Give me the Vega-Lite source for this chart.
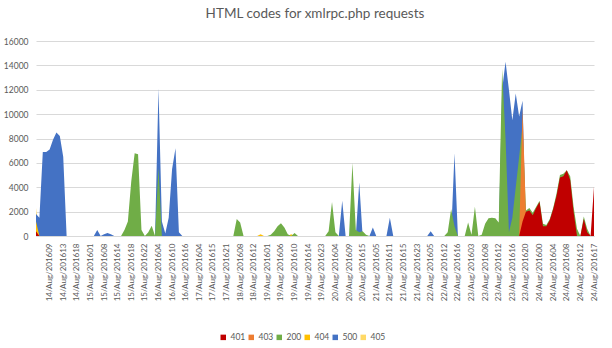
{
"$schema":"https://vega.github.io/schema/vega-lite/v6.json",
"width":558,"height":195,
"autosize":"none",
"padding":{"left":36,"top":41,"right":18,"bottom":112},
"background":"white",
"title":{"text":"HTML codes for xmlrpc.php requests","fontSize":13.5,"font":"Lato","fontWeight":"normal","color":"#595959","offset":17,"anchor":"middle"},
"data":{"values":[
{"t":"14/Aug/201605","s401":400,"s403":0,"s200":0,"s404":1200,"s500":1800,"s405":2300},
{"t":"14/Aug/201606","s401":0,"s403":0,"s200":0,"s404":0,"s500":1500,"s405":0},
{"t":"14/Aug/201607","s401":0,"s403":0,"s200":0,"s404":0,"s500":6900,"s405":0},
{"t":"14/Aug/201608","s401":0,"s403":0,"s200":0,"s404":0,"s500":6900,"s405":0},
{"t":"14/Aug/201609","s401":0,"s403":0,"s200":0,"s404":0,"s500":7100,"s405":0},
{"t":"14/Aug/201610","s401":0,"s403":0,"s200":0,"s404":0,"s500":7900,"s405":0},
{"t":"14/Aug/201611","s401":0,"s403":0,"s200":0,"s404":0,"s500":8500,"s405":0},
{"t":"14/Aug/201612","s401":0,"s403":0,"s200":0,"s404":0,"s500":8200,"s405":0},
{"t":"14/Aug/201613","s401":0,"s403":0,"s200":0,"s404":0,"s500":6500,"s405":0},
{"t":"14/Aug/201614","s401":0,"s403":0,"s200":0,"s404":0,"s500":0,"s405":0},
{"t":"14/Aug/201615","s401":0,"s403":0,"s200":0,"s404":0,"s500":0,"s405":0},
{"t":"14/Aug/201616","s401":0,"s403":0,"s200":0,"s404":0,"s500":0,"s405":0},
{"t":"14/Aug/201618","s401":0,"s403":0,"s200":0,"s404":0,"s500":0,"s405":0},
{"t":"14/Aug/201619","s401":0,"s403":0,"s200":0,"s404":0,"s500":0,"s405":0},
{"t":"14/Aug/201621","s401":0,"s403":0,"s200":0,"s404":0,"s500":0,"s405":0},
{"t":"14/Aug/201623","s401":0,"s403":0,"s200":0,"s404":0,"s500":0,"s405":0},
{"t":"15/Aug/201601","s401":0,"s403":0,"s200":0,"s404":0,"s500":0,"s405":0},
{"t":"15/Aug/201603","s401":0,"s403":0,"s200":0,"s404":0,"s500":0,"s405":0},
{"t":"15/Aug/201605","s401":0,"s403":0,"s200":0,"s404":0,"s500":500,"s405":0},
{"t":"15/Aug/201606","s401":0,"s403":0,"s200":0,"s404":0,"s500":0,"s405":0},
{"t":"15/Aug/201608","s401":0,"s403":0,"s200":0,"s404":0,"s500":150,"s405":0},
{"t":"15/Aug/201610","s401":0,"s403":0,"s200":0,"s404":0,"s500":250,"s405":0},
{"t":"15/Aug/201611","s401":0,"s403":0,"s200":0,"s404":0,"s500":150,"s405":0},
{"t":"15/Aug/201612","s401":0,"s403":0,"s200":0,"s404":0,"s500":0,"s405":0},
{"t":"15/Aug/201614","s401":0,"s403":0,"s200":0,"s404":0,"s500":0,"s405":0},
{"t":"15/Aug/201615","s401":0,"s403":0,"s200":0,"s404":0,"s500":0,"s405":0},
{"t":"15/Aug/201616","s401":0,"s403":0,"s200":500,"s404":0,"s500":0,"s405":0},
{"t":"15/Aug/201617","s401":0,"s403":0,"s200":1200,"s404":0,"s500":0,"s405":0},
{"t":"15/Aug/201618","s401":0,"s403":0,"s200":4500,"s404":0,"s500":0,"s405":0},
{"t":"15/Aug/201619","s401":0,"s403":0,"s200":6800,"s404":0,"s500":0,"s405":0},
{"t":"15/Aug/201620","s401":0,"s403":0,"s200":6700,"s404":0,"s500":0,"s405":0},
{"t":"15/Aug/201621","s401":0,"s403":0,"s200":500,"s404":0,"s500":0,"s405":0},
{"t":"15/Aug/201622","s401":0,"s403":0,"s200":0,"s404":0,"s500":0,"s405":0},
{"t":"15/Aug/201623","s401":0,"s403":0,"s200":300,"s404":0,"s500":0,"s405":0},
{"t":"16/Aug/201601","s401":0,"s403":0,"s200":850,"s404":0,"s500":0,"s405":0},
{"t":"16/Aug/201602","s401":0,"s403":0,"s200":0,"s404":0,"s500":0,"s405":0},
{"t":"16/Aug/201604","s401":0,"s403":0,"s200":5600,"s404":0,"s500":12100,"s405":0},
{"t":"16/Aug/201605","s401":0,"s403":0,"s200":0,"s404":0,"s500":1200,"s405":0},
{"t":"16/Aug/201607","s401":0,"s403":0,"s200":0,"s404":0,"s500":200,"s405":0},
{"t":"16/Aug/201608","s401":0,"s403":0,"s200":0,"s404":0,"s500":1500,"s405":0},
{"t":"16/Aug/201610","s401":0,"s403":0,"s200":0,"s404":0,"s500":5500,"s405":0},
{"t":"16/Aug/201611","s401":0,"s403":0,"s200":0,"s404":0,"s500":7200,"s405":0},
{"t":"16/Aug/201613","s401":0,"s403":0,"s200":0,"s404":0,"s500":300,"s405":0},
{"t":"16/Aug/201614","s401":0,"s403":0,"s200":0,"s404":0,"s500":0,"s405":0},
{"t":"16/Aug/201616","s401":0,"s403":0,"s200":0,"s404":0,"s500":0,"s405":0},
{"t":"16/Aug/201619","s401":0,"s403":0,"s200":0,"s404":0,"s500":0,"s405":0},
{"t":"16/Aug/201622","s401":0,"s403":0,"s200":0,"s404":0,"s500":0,"s405":0},
{"t":"17/Aug/201601","s401":0,"s403":0,"s200":0,"s404":0,"s500":0,"s405":0},
{"t":"17/Aug/201604","s401":0,"s403":0,"s200":0,"s404":0,"s500":0,"s405":0},
{"t":"17/Aug/201607","s401":0,"s403":0,"s200":0,"s404":0,"s500":0,"s405":0},
{"t":"17/Aug/201610","s401":0,"s403":0,"s200":0,"s404":0,"s500":0,"s405":0},
{"t":"17/Aug/201613","s401":0,"s403":0,"s200":0,"s404":0,"s500":0,"s405":0},
{"t":"17/Aug/201615","s401":0,"s403":0,"s200":0,"s404":0,"s500":0,"s405":0},
{"t":"17/Aug/201617","s401":0,"s403":0,"s200":0,"s404":0,"s500":0,"s405":0},
{"t":"17/Aug/201618","s401":0,"s403":0,"s200":0,"s404":0,"s500":0,"s405":0},
{"t":"17/Aug/201620","s401":0,"s403":0,"s200":0,"s404":0,"s500":0,"s405":0},
{"t":"17/Aug/201621","s401":0,"s403":0,"s200":0,"s404":0,"s500":0,"s405":0},
{"t":"18/Aug/201601","s401":0,"s403":0,"s200":0,"s404":0,"s500":0,"s405":0},
{"t":"18/Aug/201604","s401":0,"s403":0,"s200":0,"s404":0,"s500":0,"s405":0},
{"t":"18/Aug/201606","s401":0,"s403":0,"s200":1400,"s404":0,"s500":0,"s405":0},
{"t":"18/Aug/201608","s401":0,"s403":0,"s200":1100,"s404":0,"s500":0,"s405":0},
{"t":"18/Aug/201609","s401":0,"s403":0,"s200":0,"s404":0,"s500":0,"s405":0},
{"t":"18/Aug/201610","s401":0,"s403":0,"s200":0,"s404":0,"s500":0,"s405":0},
{"t":"18/Aug/201611","s401":0,"s403":0,"s200":0,"s404":0,"s500":0,"s405":0},
{"t":"18/Aug/201612","s401":0,"s403":0,"s200":0,"s404":0,"s500":0,"s405":0},
{"t":"18/Aug/201616","s401":0,"s403":0,"s200":0,"s404":0,"s500":0,"s405":0},
{"t":"18/Aug/201619","s401":0,"s403":0,"s200":0,"s404":150,"s500":0,"s405":0},
{"t":"18/Aug/201622","s401":0,"s403":0,"s200":0,"s404":0,"s500":0,"s405":0},
{"t":"19/Aug/201601","s401":0,"s403":0,"s200":0,"s404":0,"s500":0,"s405":0},
{"t":"19/Aug/201602","s401":0,"s403":0,"s200":100,"s404":0,"s500":0,"s405":0},
{"t":"19/Aug/201603","s401":0,"s403":0,"s200":400,"s404":0,"s500":0,"s405":0},
{"t":"19/Aug/201605","s401":0,"s403":0,"s200":800,"s404":0,"s500":0,"s405":0},
{"t":"19/Aug/201606","s401":0,"s403":0,"s200":1050,"s404":0,"s500":0,"s405":0},
{"t":"19/Aug/201607","s401":0,"s403":0,"s200":700,"s404":0,"s500":0,"s405":0},
{"t":"19/Aug/201608","s401":0,"s403":0,"s200":150,"s404":0,"s500":0,"s405":0},
{"t":"19/Aug/201609","s401":0,"s403":0,"s200":0,"s404":150,"s500":0,"s405":0},
{"t":"19/Aug/201610","s401":0,"s403":0,"s200":250,"s404":0,"s500":0,"s405":0},
{"t":"19/Aug/201611","s401":0,"s403":0,"s200":0,"s404":0,"s500":0,"s405":0},
{"t":"19/Aug/201612","s401":0,"s403":0,"s200":0,"s404":0,"s500":0,"s405":0},
{"t":"19/Aug/201613","s401":0,"s403":0,"s200":0,"s404":0,"s500":0,"s405":0},
{"t":"19/Aug/201614","s401":0,"s403":0,"s200":0,"s404":0,"s500":0,"s405":0},
{"t":"19/Aug/201617","s401":0,"s403":0,"s200":0,"s404":0,"s500":0,"s405":0},
{"t":"19/Aug/201619","s401":0,"s403":0,"s200":0,"s404":0,"s500":0,"s405":0},
{"t":"19/Aug/201621","s401":0,"s403":0,"s200":0,"s404":0,"s500":0,"s405":0},
{"t":"19/Aug/201623","s401":0,"s403":0,"s200":0,"s404":0,"s500":0,"s405":0},
{"t":"20/Aug/201601","s401":0,"s403":0,"s200":0,"s404":0,"s500":0,"s405":0},
{"t":"20/Aug/201602","s401":0,"s403":0,"s200":400,"s404":0,"s500":0,"s405":0},
{"t":"20/Aug/201603","s401":0,"s403":0,"s200":2800,"s404":0,"s500":0,"s405":0},
{"t":"20/Aug/201604","s401":0,"s403":0,"s200":300,"s404":0,"s500":0,"s405":0},
{"t":"20/Aug/201605","s401":0,"s403":0,"s200":0,"s404":0,"s500":0,"s405":0},
{"t":"20/Aug/201607","s401":0,"s403":0,"s200":0,"s404":0,"s500":2900,"s405":0},
{"t":"20/Aug/201608","s401":0,"s403":0,"s200":0,"s404":0,"s500":0,"s405":0},
{"t":"20/Aug/201609","s401":0,"s403":0,"s200":0,"s404":0,"s500":0,"s405":0},
{"t":"20/Aug/201611","s401":0,"s403":0,"s200":6000,"s404":0,"s500":0,"s405":0},
{"t":"20/Aug/201612","s401":0,"s403":0,"s200":500,"s404":0,"s500":0,"s405":0},
{"t":"20/Aug/201613","s401":0,"s403":0,"s200":300,"s404":0,"s500":4400,"s405":0},
{"t":"20/Aug/201615","s401":0,"s403":0,"s200":400,"s404":0,"s500":0,"s405":0},
{"t":"20/Aug/201618","s401":0,"s403":0,"s200":100,"s404":0,"s500":0,"s405":0},
{"t":"20/Aug/201621","s401":0,"s403":0,"s200":0,"s404":0,"s500":0,"s405":0},
{"t":"21/Aug/201602","s401":0,"s403":0,"s200":0,"s404":0,"s500":700,"s405":0},
{"t":"21/Aug/201605","s401":0,"s403":0,"s200":0,"s404":0,"s500":0,"s405":0},
{"t":"21/Aug/201607","s401":0,"s403":0,"s200":0,"s404":0,"s500":0,"s405":0},
{"t":"21/Aug/201608","s401":0,"s403":0,"s200":0,"s404":0,"s500":0,"s405":0},
{"t":"21/Aug/201610","s401":0,"s403":0,"s200":0,"s404":0,"s500":0,"s405":0},
{"t":"21/Aug/201611","s401":0,"s403":0,"s200":0,"s404":0,"s500":1500,"s405":0},
{"t":"21/Aug/201612","s401":0,"s403":0,"s200":0,"s404":0,"s500":0,"s405":0},
{"t":"21/Aug/201613","s401":0,"s403":0,"s200":0,"s404":0,"s500":0,"s405":0},
{"t":"21/Aug/201614","s401":0,"s403":0,"s200":0,"s404":0,"s500":0,"s405":0},
{"t":"21/Aug/201615","s401":0,"s403":0,"s200":0,"s404":0,"s500":0,"s405":0},
{"t":"21/Aug/201617","s401":0,"s403":0,"s200":0,"s404":0,"s500":0,"s405":0},
{"t":"21/Aug/201619","s401":0,"s403":0,"s200":0,"s404":0,"s500":0,"s405":0},
{"t":"21/Aug/201621","s401":0,"s403":0,"s200":0,"s404":0,"s500":0,"s405":0},
{"t":"21/Aug/201623","s401":0,"s403":0,"s200":0,"s404":0,"s500":0,"s405":0},
{"t":"22/Aug/201601","s401":0,"s403":0,"s200":0,"s404":0,"s500":0,"s405":0},
{"t":"22/Aug/201602","s401":0,"s403":0,"s200":0,"s404":0,"s500":0,"s405":0},
{"t":"22/Aug/201604","s401":0,"s403":0,"s200":0,"s404":0,"s500":0,"s405":0},
{"t":"22/Aug/201605","s401":0,"s403":0,"s200":0,"s404":0,"s500":400,"s405":0},
{"t":"22/Aug/201607","s401":0,"s403":0,"s200":0,"s404":0,"s500":0,"s405":0},
{"t":"22/Aug/201609","s401":0,"s403":0,"s200":0,"s404":0,"s500":0,"s405":0},
{"t":"22/Aug/201610","s401":0,"s403":0,"s200":0,"s404":0,"s500":0,"s405":0},
{"t":"22/Aug/201612","s401":0,"s403":0,"s200":0,"s404":0,"s500":0,"s405":0},
{"t":"22/Aug/201613","s401":0,"s403":0,"s200":300,"s404":0,"s500":0,"s405":0},
{"t":"22/Aug/201614","s401":0,"s403":0,"s200":2200,"s404":0,"s500":0,"s405":0},
{"t":"22/Aug/201615","s401":0,"s403":0,"s200":800,"s404":0,"s500":6800,"s405":0},
{"t":"22/Aug/201616","s401":0,"s403":0,"s200":0,"s404":0,"s500":0,"s405":0},
{"t":"22/Aug/201619","s401":0,"s403":0,"s200":0,"s404":0,"s500":0,"s405":0},
{"t":"22/Aug/201622","s401":0,"s403":0,"s200":0,"s404":0,"s500":0,"s405":0},
{"t":"23/Aug/201601","s401":0,"s403":0,"s200":1100,"s404":0,"s500":0,"s405":0},
{"t":"23/Aug/201603","s401":0,"s403":0,"s200":100,"s404":0,"s500":0,"s405":0},
{"t":"23/Aug/201605","s401":0,"s403":0,"s200":2400,"s404":0,"s500":0,"s405":0},
{"t":"23/Aug/201606","s401":0,"s403":0,"s200":0,"s404":0,"s500":0,"s405":0},
{"t":"23/Aug/201607","s401":0,"s403":0,"s200":100,"s404":0,"s500":0,"s405":0},
{"t":"23/Aug/201608","s401":0,"s403":0,"s200":1000,"s404":0,"s500":0,"s405":0},
{"t":"23/Aug/201609","s401":0,"s403":0,"s200":1450,"s404":0,"s500":0,"s405":0},
{"t":"23/Aug/201610","s401":0,"s403":0,"s200":1500,"s404":0,"s500":0,"s405":0},
{"t":"23/Aug/201611","s401":0,"s403":0,"s200":1450,"s404":0,"s500":0,"s405":0},
{"t":"23/Aug/201612","s401":0,"s403":0,"s200":1100,"s404":0,"s500":0,"s405":0},
{"t":"23/Aug/201613","s401":0,"s403":0,"s200":13700,"s404":0,"s500":12000,"s405":0},
{"t":"23/Aug/201614","s401":0,"s403":0,"s200":8000,"s404":0,"s500":14300,"s405":0},
{"t":"23/Aug/201615","s401":0,"s403":0,"s200":300,"s404":0,"s500":12000,"s405":0},
{"t":"23/Aug/201616","s401":0,"s403":0,"s200":1500,"s404":0,"s500":9500,"s405":0},
{"t":"23/Aug/201617","s401":0,"s403":0,"s200":4000,"s404":0,"s500":11700,"s405":0},
{"t":"23/Aug/201618","s401":0,"s403":0,"s200":6500,"s404":0,"s500":9800,"s405":0},
{"t":"23/Aug/201619","s401":1200,"s403":10500,"s200":9000,"s404":0,"s500":11100,"s405":0},
{"t":"23/Aug/201620","s401":2000,"s403":1800,"s200":2100,"s404":0,"s500":0,"s405":0},
{"t":"23/Aug/201621","s401":2100,"s403":0,"s200":2300,"s404":0,"s500":0,"s405":0},
{"t":"23/Aug/201622","s401":1700,"s403":0,"s200":1900,"s404":0,"s500":0,"s405":0},
{"t":"23/Aug/201623","s401":2300,"s403":0,"s200":2400,"s404":0,"s500":0,"s405":0},
{"t":"24/Aug/201600","s401":2800,"s403":0,"s200":2900,"s404":0,"s500":0,"s405":0},
{"t":"24/Aug/201601","s401":800,"s403":0,"s200":1000,"s404":0,"s500":0,"s405":0},
{"t":"24/Aug/201602","s401":800,"s403":0,"s200":900,"s404":0,"s500":0,"s405":0},
{"t":"24/Aug/201603","s401":1300,"s403":0,"s200":1400,"s404":0,"s500":0,"s405":0},
{"t":"24/Aug/201604","s401":2200,"s403":0,"s200":2300,"s404":0,"s500":0,"s405":0},
{"t":"24/Aug/201605","s401":3300,"s403":0,"s200":3500,"s404":0,"s500":0,"s405":0},
{"t":"24/Aug/201606","s401":4800,"s403":0,"s200":5000,"s404":0,"s500":0,"s405":0},
{"t":"24/Aug/201607","s401":4900,"s403":0,"s200":5100,"s404":0,"s500":0,"s405":0},
{"t":"24/Aug/201608","s401":5400,"s403":0,"s200":5400,"s404":0,"s500":0,"s405":0},
{"t":"24/Aug/201609","s401":4600,"s403":0,"s200":4900,"s404":0,"s500":0,"s405":0},
{"t":"24/Aug/201610","s401":2000,"s403":0,"s200":2400,"s404":0,"s500":0,"s405":0},
{"t":"24/Aug/201611","s401":0,"s403":0,"s200":600,"s404":0,"s500":0,"s405":0},
{"t":"24/Aug/201612","s401":0,"s403":0,"s200":0,"s404":0,"s500":0,"s405":0},
{"t":"24/Aug/201613","s401":1400,"s403":0,"s200":1600,"s404":0,"s500":0,"s405":0},
{"t":"24/Aug/201614","s401":300,"s403":0,"s200":600,"s404":0,"s500":0,"s405":0},
{"t":"24/Aug/201615","s401":0,"s403":0,"s200":0,"s404":0,"s500":0,"s405":0},
{"t":"24/Aug/201617","s401":4050,"s403":0,"s200":0,"s404":0,"s500":0,"s405":0}
]},
"transform":[{"fold":["s401","s403","s200","s404","s500","s405"],"as":["series","count"]},{"calculate":"substring(datum.series,1)","as":"code"}],
"encoding":{
 "x":{"field":"t","type":"ordinal","sort":null,"scale":{"type":"point","padding":0},
 "axis":{"title":null,"labelAngle":-90,"ticks":false,"grid":false,"domain":true,"domainColor":"#d9d9d9","labelPadding":7,"labelFontSize":8,"labelColor":"#595959","labelOverlap":false,"labelBound":false,
 "values":["14/Aug/201609","14/Aug/201613","14/Aug/201618","15/Aug/201601","15/Aug/201608","15/Aug/201614","15/Aug/201618","15/Aug/201622","16/Aug/201604","16/Aug/201610","16/Aug/201616","17/Aug/201604","17/Aug/201615","17/Aug/201621","18/Aug/201608","18/Aug/201612","19/Aug/201601","19/Aug/201606","19/Aug/201610","19/Aug/201614","19/Aug/201623","20/Aug/201604","20/Aug/201609","20/Aug/201615","21/Aug/201605","21/Aug/201611","21/Aug/201615","21/Aug/201623","22/Aug/201605","22/Aug/201612","22/Aug/201616","23/Aug/201603","23/Aug/201608","23/Aug/201612","23/Aug/201616","23/Aug/201620","24/Aug/201600","24/Aug/201604","24/Aug/201608","24/Aug/201612","24/Aug/201617"]}},
 "y":{"field":"count","type":"quantitative","title":null,"stack":null,"scale":{"domain":[0,16000],"nice":false},
  "axis":{"values":[0,2000,4000,6000,8000,10000,12000,14000,16000],"tickCount":20,"format":"d","grid":true,"gridColor":"#d9d9d9","domain":false,"ticks":false,"labelOverlap":false,"labelPadding":8,"labelFontSize":8.5,"labelColor":"#595959"}},
 "color":{"field":"code","type":"nominal","scale":{"domain":["401","403","200","404","500","405"],"range":["#C00000","#ED7D31","#70AD47","#FFC000","#4472C4","#FFD966"]},
  "legend":{"title":null,"orient":"none","legendX":183,"legendY":292,"direction":"horizontal","symbolType":"square","symbolSize":30,"symbolStrokeWidth":0,"labelFontSize":8.5,"labelColor":"#595959","columnPadding":1,"labelOffset":3}}
},
"layer":[
{"transform":[{"filter":"datum.code == '405'"}],"mark":{"type":"area","opacity":1}},
{"transform":[{"filter":"datum.code == '500'"}],"mark":{"type":"area","opacity":1}},
{"transform":[{"filter":"datum.code == '404'"}],"mark":{"type":"area","opacity":1}},
{"transform":[{"filter":"datum.code == '200'"}],"mark":{"type":"area","opacity":1}},
{"transform":[{"filter":"datum.code == '403'"}],"mark":{"type":"area","opacity":1}},
{"transform":[{"filter":"datum.code == '401'"}],"mark":{"type":"area","opacity":1}}
],
"config":{"font":"Lato","view":{"stroke":null},"axis":{"labelFont":"Lato"},"legend":{"labelFont":"Lato"}}
}
